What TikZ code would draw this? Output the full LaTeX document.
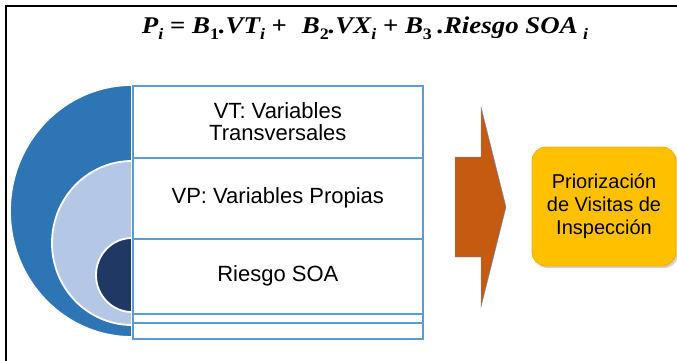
\documentclass[tikz,border=0pt]{standalone}
\usepackage{graphicx}
\usepackage{fontspec}
\setmainfont{Liberation Sans}
\newfontfamily\eqfont{Liberation Serif}
\usetikzlibrary{shadows}
\definecolor{outerblue}{HTML}{2E75B6}
\definecolor{midblue}{HTML}{B4C7E7}
\definecolor{innerblue}{HTML}{1F3864}
\definecolor{boxline}{HTML}{5B9BD5}
\definecolor{arroworange}{HTML}{C55A11}
\definecolor{gold}{HTML}{FFC000}
\definecolor{goldline}{HTML}{F2B100}
\newcommand{\eqsub}[1]{\raisebox{-0.28em}{\fontsize{16}{16}\selectfont #1}}
\newcommand{\eqop}[1]{\hspace{0.25em}{\upshape #1}\hspace{0.25em}}
\newcommand{\myformula}{\scalebox{1.12}[1]{\eqfont\bfseries\itshape P\eqsub{i}\eqop{=}B\eqsub{\upshape 1}.VT\eqsub{i}\eqop{+}\hspace{0.3em}B\eqsub{\upshape 2}.VX\eqsub{i}\eqop{+}B\eqsub{\upshape 3}\hspace{0.2em}.Riesgo SOA\hspace{0.2em}\eqsub{i}}}
\tikzset{
  layerbox/.style={draw=boxline, line width=1.6pt, fill=white, anchor=north west, inner sep=0pt, align=center, font=\fontsize{22}{22}\selectfont},
  halfdisc/.style={draw=white, line width=1.8pt},
  goalbox/.style={draw=goldline, line width=0.8pt, fill=gold, rounded corners=14pt, align=center, inner sep=0pt,
     font=\fontsize{20}{23}\selectfont, drop shadow={shadow xshift=2pt, shadow yshift=-2pt, opacity=0.35}},
  eqstyle/.style={font=\fontsize{24}{26}\selectfont, inner sep=0pt, anchor=base},
}
\begin{document}
\begin{tikzpicture}[x=1pt,y=-1pt]
\useasboundingbox (0,0) rectangle (677,360);
\fill[white] (0,0) rectangle (677,360);
% frame
\draw[line width=2.5pt, line cap=rect] (6,360) -- (6,6) -- (677,6);
% equation
\node[eqstyle] (eq) at (365,33) {\myformula};
% half discs
\filldraw[halfdisc, fill=outerblue] (132,85) arc[start angle=-90, end angle=-270, x radius=122, y radius=126] -- cycle;
\filldraw[halfdisc, fill=midblue] (132,161) arc[start angle=-90, end angle=-270, x radius=80, y radius=82] -- cycle;
\filldraw[halfdisc, fill=innerblue] (132,238) arc[start angle=-90, end angle=-270, x radius=36, y radius=37] -- cycle;
% layer boxes
\node[layerbox, minimum width=290pt, minimum height=72pt] (vt) at (132,85) {VT: Variables\\Transversales};
\node[layerbox, minimum width=290pt, minimum height=81pt] (vp) at (132,157) {\raisebox{3pt}{VP: Variables Propias}};
\node[layerbox, minimum width=290pt, minimum height=75pt] (rs) at (132,238) {Riesgo SOA};
\node[layerbox, minimum width=290pt, minimum height=9pt] (l4) at (132,313) {};
\node[layerbox, minimum width=290pt, minimum height=16pt] (l5) at (132,322) {};
% arrow
\fill[arroworange, draw=boxline, line width=0.4pt] (455,157) -- (481,157) -- (481,107) -- (506,207) -- (481,307) -- (481,257) -- (455,257) -- cycle;
% goal
\node[goalbox, minimum width=144pt, minimum height=119pt] (goal) at (604,206.5) {Priorización\\de Visitas de\\Inspección};
\end{tikzpicture}
\end{document}
